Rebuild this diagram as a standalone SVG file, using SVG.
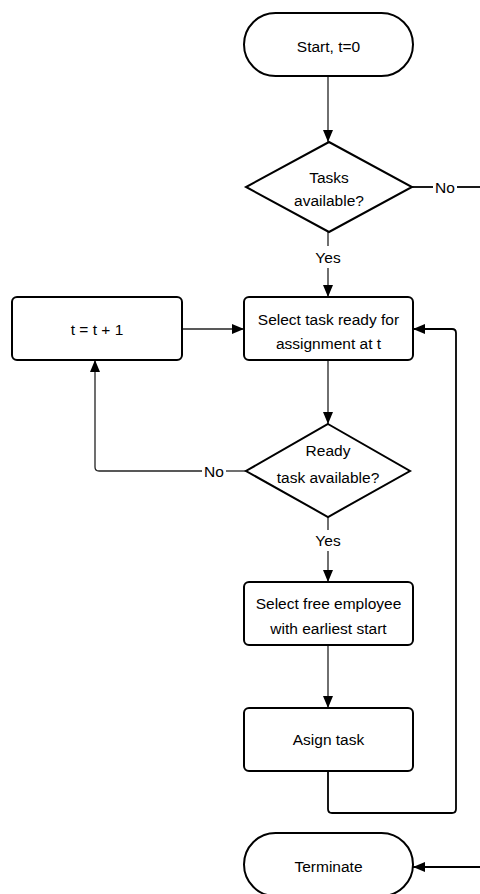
<svg xmlns="http://www.w3.org/2000/svg" width="480" height="894" viewBox="0 0 480 894">
<defs>
<marker id="ah" viewBox="0 0 12 10" refX="12" refY="5" markerWidth="12" markerHeight="10" markerUnits="userSpaceOnUse" orient="auto">
<path d="M0,0 L12,5 L0,10 Z" fill="#000"/>
</marker>
<style>
.shape{fill:#fff;stroke:#000;stroke-width:2}
.t{font-family:"Liberation Sans",Arial,sans-serif;font-size:15.5px;fill:#000;text-anchor:middle}
.c{fill:none;stroke:#222;stroke-width:1.3}
.ca{fill:none;stroke:#222;stroke-width:1.3;marker-end:url(#ah)}
.heavy{stroke:#000;stroke-width:1.8}
</style>
</defs>
<rect width="480" height="894" fill="#fff"/>
<g id="connectors">
<line class="ca" x1="328" y1="76" x2="328" y2="142"/>
<line class="c heavy" x1="412" y1="187" x2="433" y2="187"/>
<line class="c heavy" x1="457" y1="187" x2="480" y2="187"/>
<text class="t" x="445" y="192.5">No</text>
<line class="c" x1="328" y1="232" x2="328" y2="246"/>
<text class="t" x="328" y="262.5">Yes</text>
<line class="ca" x1="328" y1="268" x2="328" y2="297"/>
<line class="ca" x1="182" y1="329" x2="244" y2="329"/>
<line class="ca" x1="328" y1="360" x2="328" y2="424"/>
<line class="c" x1="246" y1="471" x2="226" y2="471"/>
<text class="t" x="214" y="476.5">No</text>
<path class="ca" d="M202,471 L99,471 Q95,471 95,467 L95,360"/>
<line class="c" x1="328" y1="517" x2="328" y2="530"/>
<text class="t" x="328" y="545.5">Yes</text>
<line class="ca" x1="328" y1="551" x2="328" y2="582"/>
<line class="ca" x1="328" y1="645" x2="328" y2="708"/>
<path class="ca heavy" d="M328,771 L328,809 Q328,813 332,813 L452,813 Q456,813 456,809 L456,333 Q456,329 452,329 L413,329"/>
<line class="ca heavy" x1="480" y1="867" x2="413" y2="867"/>
</g>
<g id="start">
<rect class="shape" x="244" y="13" width="169" height="63" rx="31.5"/>
<text class="t" x="328.5" y="51.5">Start, t=0</text>
</g>
<g id="tasks-available">
<polygon class="shape" points="329,142 412,187 329,232 246,187"/>
<text class="t" x="329" y="182.5">Tasks</text>
<text class="t" x="329" y="205.5">available?</text>
</g>
<g id="increment">
<rect class="shape" x="12" y="297" width="170" height="63" rx="5"/>
<text class="t" x="97" y="334.5">t = t + 1</text>
</g>
<g id="select-task">
<rect class="shape" x="244" y="297" width="169" height="63" rx="5"/>
<text class="t" x="328.5" y="324.5">Select task ready for</text>
<text class="t" x="328.5" y="348.5">assignment at t</text>
</g>
<g id="ready-available">
<polygon class="shape" points="328,424 410,471 328,517 246,471"/>
<text class="t" x="328" y="455.5">Ready</text>
<text class="t" x="328" y="482.5">task available?</text>
</g>
<g id="select-employee">
<rect class="shape" x="244" y="582" width="169" height="63" rx="5"/>
<text class="t" x="328.5" y="608.5">Select free employee</text>
<text class="t" x="328.5" y="633.5">with earliest start</text>
</g>
<g id="assign">
<rect class="shape" x="244" y="708" width="169" height="63" rx="5"/>
<text class="t" x="328.5" y="744.5">Asign task</text>
</g>
<g id="terminate">
<rect class="shape" x="244" y="833" width="169" height="63" rx="31.5"/>
<text class="t" x="328.5" y="871.5">Terminate</text>
</g>
</svg>
